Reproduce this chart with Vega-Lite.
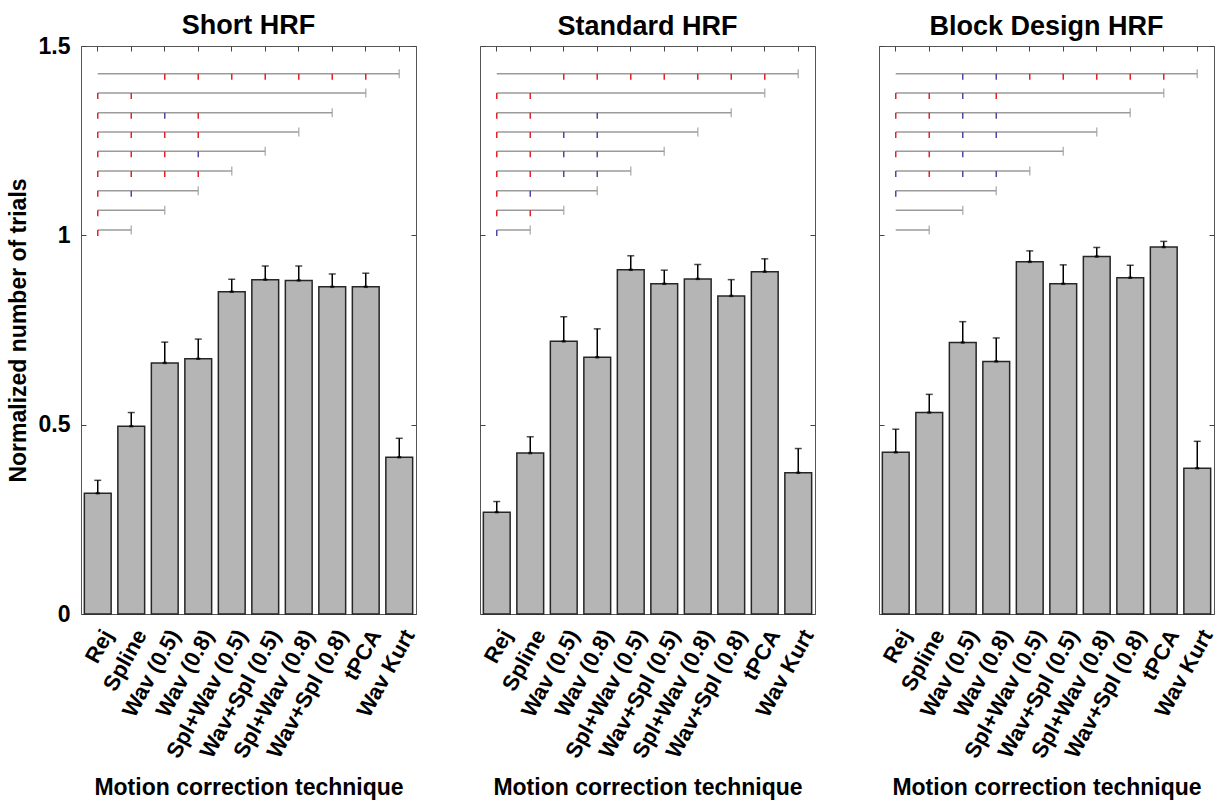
{
"$schema": "https://vega.github.io/schema/vega-lite/v6.json",
"padding": {"left": 6, "top": 11, "right": 0, "bottom": 0},
"datasets": {
"bars": [
{"panel":"Short HRF","tech":"Rej","value":0.319,"upper":0.353},
{"panel":"Short HRF","tech":"Spline","value":0.496,"upper":0.532},
{"panel":"Short HRF","tech":"Wav (0.5)","value":0.663,"upper":0.718},
{"panel":"Short HRF","tech":"Wav (0.8)","value":0.674,"upper":0.726},
{"panel":"Short HRF","tech":"Spl+Wav (0.5)","value":0.851,"upper":0.884},
{"panel":"Short HRF","tech":"Wav+Spl (0.5)","value":0.883,"upper":0.919},
{"panel":"Short HRF","tech":"Spl+Wav (0.8)","value":0.881,"upper":0.919},
{"panel":"Short HRF","tech":"Wav+Spl (0.8)","value":0.864,"upper":0.898},
{"panel":"Short HRF","tech":"tPCA","value":0.864,"upper":0.900},
{"panel":"Short HRF","tech":"Wav Kurt","value":0.414,"upper":0.464},
{"panel":"Standard HRF","tech":"Rej","value":0.269,"upper":0.297},
{"panel":"Standard HRF","tech":"Spline","value":0.425,"upper":0.468},
{"panel":"Standard HRF","tech":"Wav (0.5)","value":0.720,"upper":0.785},
{"panel":"Standard HRF","tech":"Wav (0.8)","value":0.678,"upper":0.753},
{"panel":"Standard HRF","tech":"Spl+Wav (0.5)","value":0.909,"upper":0.946},
{"panel":"Standard HRF","tech":"Wav+Spl (0.5)","value":0.872,"upper":0.908},
{"panel":"Standard HRF","tech":"Spl+Wav (0.8)","value":0.885,"upper":0.923},
{"panel":"Standard HRF","tech":"Wav+Spl (0.8)","value":0.840,"upper":0.883},
{"panel":"Standard HRF","tech":"tPCA","value":0.904,"upper":0.938},
{"panel":"Standard HRF","tech":"Wav Kurt","value":0.373,"upper":0.437},
{"panel":"Block Design HRF","tech":"Rej","value":0.427,"upper":0.488},
{"panel":"Block Design HRF","tech":"Spline","value":0.532,"upper":0.580},
{"panel":"Block Design HRF","tech":"Wav (0.5)","value":0.717,"upper":0.772},
{"panel":"Block Design HRF","tech":"Wav (0.8)","value":0.667,"upper":0.729},
{"panel":"Block Design HRF","tech":"Spl+Wav (0.5)","value":0.930,"upper":0.959},
{"panel":"Block Design HRF","tech":"Wav+Spl (0.5)","value":0.872,"upper":0.922},
{"panel":"Block Design HRF","tech":"Spl+Wav (0.8)","value":0.944,"upper":0.968},
{"panel":"Block Design HRF","tech":"Wav+Spl (0.8)","value":0.888,"upper":0.921},
{"panel":"Block Design HRF","tech":"tPCA","value":0.969,"upper":0.984},
{"panel":"Block Design HRF","tech":"Wav Kurt","value":0.385,"upper":0.456}
],
"brackets": [
{"y":1.427,"start":"Rej","end":"Wav Kurt"},
{"y":1.376,"start":"Rej","end":"tPCA"},
{"y":1.324,"start":"Rej","end":"Wav+Spl (0.8)"},
{"y":1.273,"start":"Rej","end":"Spl+Wav (0.8)"},
{"y":1.222,"start":"Rej","end":"Wav+Spl (0.5)"},
{"y":1.170,"start":"Rej","end":"Spl+Wav (0.5)"},
{"y":1.118,"start":"Rej","end":"Wav (0.8)"},
{"y":1.066,"start":"Rej","end":"Wav (0.5)"},
{"y":1.014,"start":"Rej","end":"Spline"}
],
"sig": [
{"panel":"Short HRF","y":1.427,"tech":"Wav (0.5)","kind":"red"},
{"panel":"Short HRF","y":1.427,"tech":"Wav (0.8)","kind":"red"},
{"panel":"Short HRF","y":1.427,"tech":"Spl+Wav (0.5)","kind":"red"},
{"panel":"Short HRF","y":1.427,"tech":"Wav+Spl (0.5)","kind":"red"},
{"panel":"Short HRF","y":1.427,"tech":"Spl+Wav (0.8)","kind":"red"},
{"panel":"Short HRF","y":1.427,"tech":"Wav+Spl (0.8)","kind":"red"},
{"panel":"Short HRF","y":1.427,"tech":"tPCA","kind":"red"},
{"panel":"Short HRF","y":1.376,"tech":"Rej","kind":"red"},
{"panel":"Short HRF","y":1.376,"tech":"Spline","kind":"red"},
{"panel":"Short HRF","y":1.324,"tech":"Rej","kind":"red"},
{"panel":"Short HRF","y":1.324,"tech":"Spline","kind":"red"},
{"panel":"Short HRF","y":1.324,"tech":"Wav (0.5)","kind":"blue"},
{"panel":"Short HRF","y":1.324,"tech":"Wav (0.8)","kind":"red"},
{"panel":"Short HRF","y":1.273,"tech":"Rej","kind":"red"},
{"panel":"Short HRF","y":1.273,"tech":"Spline","kind":"red"},
{"panel":"Short HRF","y":1.273,"tech":"Wav (0.5)","kind":"red"},
{"panel":"Short HRF","y":1.273,"tech":"Wav (0.8)","kind":"red"},
{"panel":"Short HRF","y":1.222,"tech":"Rej","kind":"red"},
{"panel":"Short HRF","y":1.222,"tech":"Spline","kind":"red"},
{"panel":"Short HRF","y":1.222,"tech":"Wav (0.5)","kind":"red"},
{"panel":"Short HRF","y":1.222,"tech":"Wav (0.8)","kind":"blue"},
{"panel":"Short HRF","y":1.170,"tech":"Rej","kind":"red"},
{"panel":"Short HRF","y":1.170,"tech":"Spline","kind":"red"},
{"panel":"Short HRF","y":1.170,"tech":"Wav (0.5)","kind":"red"},
{"panel":"Short HRF","y":1.170,"tech":"Wav (0.8)","kind":"red"},
{"panel":"Short HRF","y":1.118,"tech":"Rej","kind":"red"},
{"panel":"Short HRF","y":1.118,"tech":"Spline","kind":"blue"},
{"panel":"Short HRF","y":1.066,"tech":"Rej","kind":"red"},
{"panel":"Short HRF","y":1.014,"tech":"Rej","kind":"red"},
{"panel":"Standard HRF","y":1.427,"tech":"Wav (0.5)","kind":"red"},
{"panel":"Standard HRF","y":1.427,"tech":"Wav (0.8)","kind":"red"},
{"panel":"Standard HRF","y":1.427,"tech":"Spl+Wav (0.5)","kind":"red"},
{"panel":"Standard HRF","y":1.427,"tech":"Wav+Spl (0.5)","kind":"red"},
{"panel":"Standard HRF","y":1.427,"tech":"Spl+Wav (0.8)","kind":"red"},
{"panel":"Standard HRF","y":1.427,"tech":"Wav+Spl (0.8)","kind":"red"},
{"panel":"Standard HRF","y":1.427,"tech":"tPCA","kind":"red"},
{"panel":"Standard HRF","y":1.376,"tech":"Rej","kind":"red"},
{"panel":"Standard HRF","y":1.376,"tech":"Spline","kind":"red"},
{"panel":"Standard HRF","y":1.324,"tech":"Rej","kind":"red"},
{"panel":"Standard HRF","y":1.324,"tech":"Spline","kind":"red"},
{"panel":"Standard HRF","y":1.324,"tech":"Wav (0.8)","kind":"blue"},
{"panel":"Standard HRF","y":1.273,"tech":"Rej","kind":"red"},
{"panel":"Standard HRF","y":1.273,"tech":"Spline","kind":"red"},
{"panel":"Standard HRF","y":1.273,"tech":"Wav (0.5)","kind":"blue"},
{"panel":"Standard HRF","y":1.273,"tech":"Wav (0.8)","kind":"blue"},
{"panel":"Standard HRF","y":1.222,"tech":"Rej","kind":"red"},
{"panel":"Standard HRF","y":1.222,"tech":"Spline","kind":"red"},
{"panel":"Standard HRF","y":1.222,"tech":"Wav (0.5)","kind":"blue"},
{"panel":"Standard HRF","y":1.222,"tech":"Wav (0.8)","kind":"blue"},
{"panel":"Standard HRF","y":1.170,"tech":"Rej","kind":"red"},
{"panel":"Standard HRF","y":1.170,"tech":"Spline","kind":"red"},
{"panel":"Standard HRF","y":1.170,"tech":"Wav (0.5)","kind":"blue"},
{"panel":"Standard HRF","y":1.170,"tech":"Wav (0.8)","kind":"blue"},
{"panel":"Standard HRF","y":1.118,"tech":"Rej","kind":"red"},
{"panel":"Standard HRF","y":1.118,"tech":"Spline","kind":"blue"},
{"panel":"Standard HRF","y":1.066,"tech":"Rej","kind":"red"},
{"panel":"Standard HRF","y":1.066,"tech":"Spline","kind":"red"},
{"panel":"Standard HRF","y":1.014,"tech":"Rej","kind":"blue"},
{"panel":"Block Design HRF","y":1.427,"tech":"Wav (0.5)","kind":"blue"},
{"panel":"Block Design HRF","y":1.427,"tech":"Wav (0.8)","kind":"blue"},
{"panel":"Block Design HRF","y":1.427,"tech":"Spl+Wav (0.5)","kind":"red"},
{"panel":"Block Design HRF","y":1.427,"tech":"Wav+Spl (0.5)","kind":"red"},
{"panel":"Block Design HRF","y":1.427,"tech":"Spl+Wav (0.8)","kind":"red"},
{"panel":"Block Design HRF","y":1.427,"tech":"Wav+Spl (0.8)","kind":"red"},
{"panel":"Block Design HRF","y":1.427,"tech":"tPCA","kind":"red"},
{"panel":"Block Design HRF","y":1.376,"tech":"Rej","kind":"red"},
{"panel":"Block Design HRF","y":1.376,"tech":"Spline","kind":"red"},
{"panel":"Block Design HRF","y":1.376,"tech":"Wav (0.5)","kind":"blue"},
{"panel":"Block Design HRF","y":1.376,"tech":"Wav (0.8)","kind":"red"},
{"panel":"Block Design HRF","y":1.324,"tech":"Rej","kind":"red"},
{"panel":"Block Design HRF","y":1.324,"tech":"Spline","kind":"red"},
{"panel":"Block Design HRF","y":1.324,"tech":"Wav (0.5)","kind":"blue"},
{"panel":"Block Design HRF","y":1.324,"tech":"Wav (0.8)","kind":"blue"},
{"panel":"Block Design HRF","y":1.273,"tech":"Rej","kind":"red"},
{"panel":"Block Design HRF","y":1.273,"tech":"Spline","kind":"red"},
{"panel":"Block Design HRF","y":1.273,"tech":"Wav (0.5)","kind":"blue"},
{"panel":"Block Design HRF","y":1.273,"tech":"Wav (0.8)","kind":"blue"},
{"panel":"Block Design HRF","y":1.222,"tech":"Rej","kind":"red"},
{"panel":"Block Design HRF","y":1.222,"tech":"Spline","kind":"red"},
{"panel":"Block Design HRF","y":1.222,"tech":"Wav (0.5)","kind":"blue"},
{"panel":"Block Design HRF","y":1.170,"tech":"Rej","kind":"blue"},
{"panel":"Block Design HRF","y":1.170,"tech":"Spline","kind":"red"},
{"panel":"Block Design HRF","y":1.170,"tech":"Wav (0.5)","kind":"blue"},
{"panel":"Block Design HRF","y":1.170,"tech":"Wav (0.8)","kind":"blue"},
{"panel":"Block Design HRF","y":1.118,"tech":"Rej","kind":"blue"}
]
},
"spacing": 64,
"bounds": "flush",
"hconcat": [
{
"title": {"text": "Short HRF", "offset": -5}, "width": 335, "height": 568,
"resolve": {"axis": {"x": "independent", "y": "independent"}},
"layer": [
{"data": {"name": "bars"}, "transform": [{"filter": "datum.panel === 'Short HRF'"}],
 "mark": {"type": "bar", "fill": "#b4b5b4", "stroke": "#262626", "strokeWidth": 1.5},
 "encoding": {
  "x": {"field": "tech", "type": "nominal", "scale": {"domain": ["Rej","Spline","Wav (0.5)","Wav (0.8)","Spl+Wav (0.5)","Wav+Spl (0.5)","Spl+Wav (0.8)","Wav+Spl (0.8)","tPCA","Wav Kurt"], "paddingInner": 0.2, "paddingOuter": 0.1},
        "axis": {"orient": "bottom", "ticks": false, "domain": false, "labelAngle": -61, "labelAlign": "right", "labelBaseline": "middle", "labelFontSize": 22, "labelPadding": 17, "labelOffset": 10, "title": "Motion correction technique", "titleFontSize": 23, "titlePadding": 15}},
  "y": {"field": "value", "type": "quantitative", "scale": {"domain": [0, 1.5], "nice": false},
        "axis": {"orient": "left", "values": [0, 0.5, 1, 1.5], "format": "~g", "ticks": false, "domain": false, "labelFontSize": 23, "labelPadding": 11, "title": "Normalized number of trials", "titleFontSize": 23, "titlePadding": 8}}
 }},
{"data": {"name": "bars"}, "transform": [{"filter": "datum.panel === 'Short HRF'"}],
 "mark": {"type": "rule", "color": "#000", "strokeWidth": 1.5},
 "encoding": {
  "x": {"field": "tech", "type": "nominal", "scale": {"domain": ["Rej","Spline","Wav (0.5)","Wav (0.8)","Spl+Wav (0.5)","Wav+Spl (0.5)","Spl+Wav (0.8)","Wav+Spl (0.8)","tPCA","Wav Kurt"], "paddingInner": 0.2, "paddingOuter": 0.1},
        "axis": {"orient": "top", "labels": false, "tickSize": -5, "tickColor": "#444", "domain": false, "title": null}},
  "y": {"field": "value", "type": "quantitative", "scale": {"domain": [0, 1.5], "nice": false},
        "axis": {"orient": "right", "values": [0, 0.5, 1, 1.5], "labels": false, "tickSize": -5, "tickColor": "#444", "domain": false, "title": null}},
  "y2": {"field": "upper"}
 }},
{"data": {"name": "bars"}, "transform": [{"filter": "datum.panel === 'Short HRF'"}],
 "mark": {"type": "tick", "orient": "horizontal", "color": "#000", "size": 7, "thickness": 1.5},
 "encoding": {
  "x": {"field": "tech", "type": "nominal", "scale": {"domain": ["Rej","Spline","Wav (0.5)","Wav (0.8)","Spl+Wav (0.5)","Wav+Spl (0.5)","Spl+Wav (0.8)","Wav+Spl (0.8)","tPCA","Wav Kurt"], "paddingInner": 0.2, "paddingOuter": 0.1}, "axis": null},
  "y": {"field": "upper", "type": "quantitative", "scale": {"domain": [0, 1.5], "nice": false},
        "axis": {"orient": "left", "values": [0, 0.5, 1, 1.5], "labels": false, "tickSize": -5, "tickColor": "#444", "domain": false, "title": null}}
 }},
{"data": {"name": "bars"}, "transform": [{"filter": "datum.panel === 'Short HRF'"}],
 "mark": {"type": "tick", "orient": "horizontal", "color": "#000", "size": 4, "thickness": 2.5},
 "encoding": {
  "x": {"field": "tech", "type": "nominal", "scale": {"domain": ["Rej","Spline","Wav (0.5)","Wav (0.8)","Spl+Wav (0.5)","Wav+Spl (0.5)","Spl+Wav (0.8)","Wav+Spl (0.8)","tPCA","Wav Kurt"], "paddingInner": 0.2, "paddingOuter": 0.1}, "axis": null},
  "y": {"field": "value", "type": "quantitative", "scale": {"domain": [0, 1.5], "nice": false}, "axis": null}
 }},
{"data": {"name": "brackets"},
 "mark": {"type": "rule", "color": "#9b9b9b", "strokeWidth": 1.5},
 "encoding": {
  "x": {"field": "start", "type": "nominal", "scale": {"domain": ["Rej","Spline","Wav (0.5)","Wav (0.8)","Spl+Wav (0.5)","Wav+Spl (0.5)","Spl+Wav (0.8)","Wav+Spl (0.8)","tPCA","Wav Kurt"], "paddingInner": 0.2, "paddingOuter": 0.1}, "axis": null},
  "x2": {"field": "end"},
  "y": {"field": "y", "type": "quantitative", "scale": {"domain": [0, 1.5], "nice": false}, "axis": null}
 }},
{"data": {"name": "brackets"},
 "mark": {"type": "tick", "orient": "vertical", "color": "#9b9b9b", "size": 9, "thickness": 1.5},
 "encoding": {
  "x": {"field": "end", "type": "nominal", "scale": {"domain": ["Rej","Spline","Wav (0.5)","Wav (0.8)","Spl+Wav (0.5)","Wav+Spl (0.5)","Spl+Wav (0.8)","Wav+Spl (0.8)","tPCA","Wav Kurt"], "paddingInner": 0.2, "paddingOuter": 0.1}, "axis": null},
  "y": {"field": "y", "type": "quantitative", "scale": {"domain": [0, 1.5], "nice": false}, "axis": null}
 }},
{"data": {"name": "sig"}, "transform": [{"filter": "datum.panel === 'Short HRF'"}],
 "mark": {"type": "tick", "orient": "vertical", "size": 6, "thickness": 1.5, "yOffset": 3, "opacity": 1},
 "encoding": {
  "x": {"field": "tech", "type": "nominal", "scale": {"domain": ["Rej","Spline","Wav (0.5)","Wav (0.8)","Spl+Wav (0.5)","Wav+Spl (0.5)","Spl+Wav (0.8)","Wav+Spl (0.8)","tPCA","Wav Kurt"], "paddingInner": 0.2, "paddingOuter": 0.1}, "axis": null},
  "y": {"field": "y", "type": "quantitative", "scale": {"domain": [0, 1.5], "nice": false}, "axis": null},
  "color": {"field": "kind", "type": "nominal", "scale": {"domain": ["red", "blue"], "range": ["#e8202a", "#4a4aa6"]}, "legend": null}
 }}
]
},
{
"title": {"text": "Standard HRF", "offset": 5}, "width": 335, "height": 568,
"resolve": {"axis": {"x": "independent", "y": "independent"}},
"layer": [
{"data": {"name": "bars"}, "transform": [{"filter": "datum.panel === 'Standard HRF'"}],
 "mark": {"type": "bar", "fill": "#b4b5b4", "stroke": "#262626", "strokeWidth": 1.5},
 "encoding": {
  "x": {"field": "tech", "type": "nominal", "scale": {"domain": ["Rej","Spline","Wav (0.5)","Wav (0.8)","Spl+Wav (0.5)","Wav+Spl (0.5)","Spl+Wav (0.8)","Wav+Spl (0.8)","tPCA","Wav Kurt"], "paddingInner": 0.2, "paddingOuter": 0.1},
        "axis": {"orient": "bottom", "ticks": false, "domain": false, "labelAngle": -61, "labelAlign": "right", "labelBaseline": "middle", "labelFontSize": 22, "labelPadding": 17, "labelOffset": 10, "title": "Motion correction technique", "titleFontSize": 23, "titlePadding": 15}},
  "y": {"field": "value", "type": "quantitative", "scale": {"domain": [0, 1.5], "nice": false}, "axis": null}
 }},
{"data": {"name": "bars"}, "transform": [{"filter": "datum.panel === 'Standard HRF'"}],
 "mark": {"type": "rule", "color": "#000", "strokeWidth": 1.5},
 "encoding": {
  "x": {"field": "tech", "type": "nominal", "scale": {"domain": ["Rej","Spline","Wav (0.5)","Wav (0.8)","Spl+Wav (0.5)","Wav+Spl (0.5)","Spl+Wav (0.8)","Wav+Spl (0.8)","tPCA","Wav Kurt"], "paddingInner": 0.2, "paddingOuter": 0.1},
        "axis": {"orient": "top", "labels": false, "tickSize": -5, "tickColor": "#444", "domain": false, "title": null}},
  "y": {"field": "value", "type": "quantitative", "scale": {"domain": [0, 1.5], "nice": false},
        "axis": {"orient": "right", "values": [0, 0.5, 1, 1.5], "labels": false, "tickSize": -5, "tickColor": "#444", "domain": false, "title": null}},
  "y2": {"field": "upper"}
 }},
{"data": {"name": "bars"}, "transform": [{"filter": "datum.panel === 'Standard HRF'"}],
 "mark": {"type": "tick", "orient": "horizontal", "color": "#000", "size": 7, "thickness": 1.5},
 "encoding": {
  "x": {"field": "tech", "type": "nominal", "scale": {"domain": ["Rej","Spline","Wav (0.5)","Wav (0.8)","Spl+Wav (0.5)","Wav+Spl (0.5)","Spl+Wav (0.8)","Wav+Spl (0.8)","tPCA","Wav Kurt"], "paddingInner": 0.2, "paddingOuter": 0.1}, "axis": null},
  "y": {"field": "upper", "type": "quantitative", "scale": {"domain": [0, 1.5], "nice": false},
        "axis": {"orient": "left", "values": [0, 0.5, 1, 1.5], "labels": false, "tickSize": -5, "tickColor": "#444", "domain": false, "title": null}}
 }},
{"data": {"name": "bars"}, "transform": [{"filter": "datum.panel === 'Standard HRF'"}],
 "mark": {"type": "tick", "orient": "horizontal", "color": "#000", "size": 4, "thickness": 2.5},
 "encoding": {
  "x": {"field": "tech", "type": "nominal", "scale": {"domain": ["Rej","Spline","Wav (0.5)","Wav (0.8)","Spl+Wav (0.5)","Wav+Spl (0.5)","Spl+Wav (0.8)","Wav+Spl (0.8)","tPCA","Wav Kurt"], "paddingInner": 0.2, "paddingOuter": 0.1}, "axis": null},
  "y": {"field": "value", "type": "quantitative", "scale": {"domain": [0, 1.5], "nice": false}, "axis": null}
 }},
{"data": {"name": "brackets"},
 "mark": {"type": "rule", "color": "#9b9b9b", "strokeWidth": 1.5},
 "encoding": {
  "x": {"field": "start", "type": "nominal", "scale": {"domain": ["Rej","Spline","Wav (0.5)","Wav (0.8)","Spl+Wav (0.5)","Wav+Spl (0.5)","Spl+Wav (0.8)","Wav+Spl (0.8)","tPCA","Wav Kurt"], "paddingInner": 0.2, "paddingOuter": 0.1}, "axis": null},
  "x2": {"field": "end"},
  "y": {"field": "y", "type": "quantitative", "scale": {"domain": [0, 1.5], "nice": false}, "axis": null}
 }},
{"data": {"name": "brackets"},
 "mark": {"type": "tick", "orient": "vertical", "color": "#9b9b9b", "size": 9, "thickness": 1.5},
 "encoding": {
  "x": {"field": "end", "type": "nominal", "scale": {"domain": ["Rej","Spline","Wav (0.5)","Wav (0.8)","Spl+Wav (0.5)","Wav+Spl (0.5)","Spl+Wav (0.8)","Wav+Spl (0.8)","tPCA","Wav Kurt"], "paddingInner": 0.2, "paddingOuter": 0.1}, "axis": null},
  "y": {"field": "y", "type": "quantitative", "scale": {"domain": [0, 1.5], "nice": false}, "axis": null}
 }},
{"data": {"name": "sig"}, "transform": [{"filter": "datum.panel === 'Standard HRF'"}],
 "mark": {"type": "tick", "orient": "vertical", "size": 6, "thickness": 1.5, "yOffset": 3, "opacity": 1},
 "encoding": {
  "x": {"field": "tech", "type": "nominal", "scale": {"domain": ["Rej","Spline","Wav (0.5)","Wav (0.8)","Spl+Wav (0.5)","Wav+Spl (0.5)","Spl+Wav (0.8)","Wav+Spl (0.8)","tPCA","Wav Kurt"], "paddingInner": 0.2, "paddingOuter": 0.1}, "axis": null},
  "y": {"field": "y", "type": "quantitative", "scale": {"domain": [0, 1.5], "nice": false}, "axis": null},
  "color": {"field": "kind", "type": "nominal", "scale": {"domain": ["red", "blue"], "range": ["#e8202a", "#4a4aa6"]}, "legend": null}
 }}
]
},
{
"title": {"text": "Block Design HRF", "offset": 5}, "width": 335, "height": 568,
"resolve": {"axis": {"x": "independent", "y": "independent"}},
"layer": [
{"data": {"name": "bars"}, "transform": [{"filter": "datum.panel === 'Block Design HRF'"}],
 "mark": {"type": "bar", "fill": "#b4b5b4", "stroke": "#262626", "strokeWidth": 1.5},
 "encoding": {
  "x": {"field": "tech", "type": "nominal", "scale": {"domain": ["Rej","Spline","Wav (0.5)","Wav (0.8)","Spl+Wav (0.5)","Wav+Spl (0.5)","Spl+Wav (0.8)","Wav+Spl (0.8)","tPCA","Wav Kurt"], "paddingInner": 0.2, "paddingOuter": 0.1},
        "axis": {"orient": "bottom", "ticks": false, "domain": false, "labelAngle": -61, "labelAlign": "right", "labelBaseline": "middle", "labelFontSize": 22, "labelPadding": 17, "labelOffset": 10, "title": "Motion correction technique", "titleFontSize": 23, "titlePadding": 15}},
  "y": {"field": "value", "type": "quantitative", "scale": {"domain": [0, 1.5], "nice": false}, "axis": null}
 }},
{"data": {"name": "bars"}, "transform": [{"filter": "datum.panel === 'Block Design HRF'"}],
 "mark": {"type": "rule", "color": "#000", "strokeWidth": 1.5},
 "encoding": {
  "x": {"field": "tech", "type": "nominal", "scale": {"domain": ["Rej","Spline","Wav (0.5)","Wav (0.8)","Spl+Wav (0.5)","Wav+Spl (0.5)","Spl+Wav (0.8)","Wav+Spl (0.8)","tPCA","Wav Kurt"], "paddingInner": 0.2, "paddingOuter": 0.1},
        "axis": {"orient": "top", "labels": false, "tickSize": -5, "tickColor": "#444", "domain": false, "title": null}},
  "y": {"field": "value", "type": "quantitative", "scale": {"domain": [0, 1.5], "nice": false},
        "axis": {"orient": "right", "values": [0, 0.5, 1, 1.5], "labels": false, "tickSize": -5, "tickColor": "#444", "domain": false, "title": null}},
  "y2": {"field": "upper"}
 }},
{"data": {"name": "bars"}, "transform": [{"filter": "datum.panel === 'Block Design HRF'"}],
 "mark": {"type": "tick", "orient": "horizontal", "color": "#000", "size": 7, "thickness": 1.5},
 "encoding": {
  "x": {"field": "tech", "type": "nominal", "scale": {"domain": ["Rej","Spline","Wav (0.5)","Wav (0.8)","Spl+Wav (0.5)","Wav+Spl (0.5)","Spl+Wav (0.8)","Wav+Spl (0.8)","tPCA","Wav Kurt"], "paddingInner": 0.2, "paddingOuter": 0.1}, "axis": null},
  "y": {"field": "upper", "type": "quantitative", "scale": {"domain": [0, 1.5], "nice": false},
        "axis": {"orient": "left", "values": [0, 0.5, 1, 1.5], "labels": false, "tickSize": -5, "tickColor": "#444", "domain": false, "title": null}}
 }},
{"data": {"name": "bars"}, "transform": [{"filter": "datum.panel === 'Block Design HRF'"}],
 "mark": {"type": "tick", "orient": "horizontal", "color": "#000", "size": 4, "thickness": 2.5},
 "encoding": {
  "x": {"field": "tech", "type": "nominal", "scale": {"domain": ["Rej","Spline","Wav (0.5)","Wav (0.8)","Spl+Wav (0.5)","Wav+Spl (0.5)","Spl+Wav (0.8)","Wav+Spl (0.8)","tPCA","Wav Kurt"], "paddingInner": 0.2, "paddingOuter": 0.1}, "axis": null},
  "y": {"field": "value", "type": "quantitative", "scale": {"domain": [0, 1.5], "nice": false}, "axis": null}
 }},
{"data": {"name": "brackets"},
 "mark": {"type": "rule", "color": "#9b9b9b", "strokeWidth": 1.5},
 "encoding": {
  "x": {"field": "start", "type": "nominal", "scale": {"domain": ["Rej","Spline","Wav (0.5)","Wav (0.8)","Spl+Wav (0.5)","Wav+Spl (0.5)","Spl+Wav (0.8)","Wav+Spl (0.8)","tPCA","Wav Kurt"], "paddingInner": 0.2, "paddingOuter": 0.1}, "axis": null},
  "x2": {"field": "end"},
  "y": {"field": "y", "type": "quantitative", "scale": {"domain": [0, 1.5], "nice": false}, "axis": null}
 }},
{"data": {"name": "brackets"},
 "mark": {"type": "tick", "orient": "vertical", "color": "#9b9b9b", "size": 9, "thickness": 1.5},
 "encoding": {
  "x": {"field": "end", "type": "nominal", "scale": {"domain": ["Rej","Spline","Wav (0.5)","Wav (0.8)","Spl+Wav (0.5)","Wav+Spl (0.5)","Spl+Wav (0.8)","Wav+Spl (0.8)","tPCA","Wav Kurt"], "paddingInner": 0.2, "paddingOuter": 0.1}, "axis": null},
  "y": {"field": "y", "type": "quantitative", "scale": {"domain": [0, 1.5], "nice": false}, "axis": null}
 }},
{"data": {"name": "sig"}, "transform": [{"filter": "datum.panel === 'Block Design HRF'"}],
 "mark": {"type": "tick", "orient": "vertical", "size": 6, "thickness": 1.5, "yOffset": 3, "opacity": 1},
 "encoding": {
  "x": {"field": "tech", "type": "nominal", "scale": {"domain": ["Rej","Spline","Wav (0.5)","Wav (0.8)","Spl+Wav (0.5)","Wav+Spl (0.5)","Spl+Wav (0.8)","Wav+Spl (0.8)","tPCA","Wav Kurt"], "paddingInner": 0.2, "paddingOuter": 0.1}, "axis": null},
  "y": {"field": "y", "type": "quantitative", "scale": {"domain": [0, 1.5], "nice": false}, "axis": null},
  "color": {"field": "kind", "type": "nominal", "scale": {"domain": ["red", "blue"], "range": ["#e8202a", "#4a4aa6"]}, "legend": null}
 }}
]
}
],
"config": {
 "font": "Liberation Sans",
 "view": {"stroke": "#555555", "strokeWidth": 1},
 "title": {"fontSize": 27, "fontWeight": "bold", "color": "#000"},
 "axis": {"labelFontWeight": "bold", "labelColor": "#000", "titleFontWeight": "bold", "titleColor": "#000", "grid": false, "tickWidth": 1}
}
}
